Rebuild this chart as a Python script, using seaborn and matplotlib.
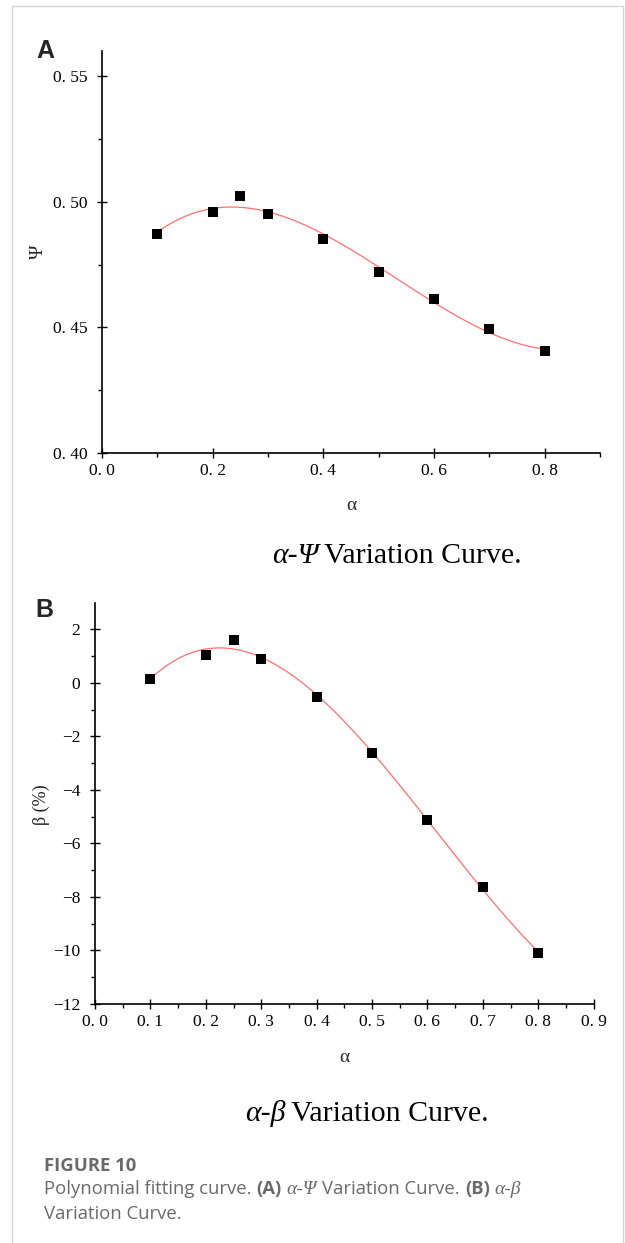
"""
Polynomial fitting curves: alpha-Psi and alpha-beta (Figure 10).
"""
import matplotlib
matplotlib.use("Agg")
import numpy as np
import pandas as pd
from matplotlib import pyplot as plt
from matplotlib import patches
from matplotlib.ticker import FixedLocator, MultipleLocator, FuncFormatter
import seaborn as sns

# Data
alpha_vals = [0.1, 0.2, 0.25, 0.3, 0.4, 0.5, 0.6, 0.7, 0.8]
psi_vals = [0.4873, 0.4961, 0.5021, 0.4953, 0.4853, 0.4722, 0.4614, 0.4493, 0.4404]
beta_vals = [0.16, 1.05, 1.61, 0.90, -0.51, -2.63, -5.13, -7.63, -10.09]

psi_ticks = [0.40, 0.45, 0.50, 0.55]
beta_ticks = [-12, -10, -8, -6, -4, -2, 0, 2]

W, H = 625, 1243
SERIF = "Liberation Serif"
SANS = ["Open Sans", "DejaVu Sans"]
LETTER = ["Liberation Sans", "DejaVu Sans"]
FIT_RED = "#ff6f6f"
CAPTION_GRAY = "#6a6a6a"


def fx(px):
    return px / W


def fy(py):
    return 1 - py / H


def style_axis(ax, xfmt, yfmt):
    sns.despine(ax=ax)
    for side in ("left", "bottom"):
        ax.spines[side].set_linewidth(1.2)
        ax.spines[side].set_color("black")
    ax.tick_params(which="both", bottom=True, left=True, top=False, right=False)
    ax.tick_params(which="major", direction="inout", length=7, width=1.0,
                   labelsize=12.5, colors="black")
    ax.tick_params(axis="y", which="major", pad=7)
    ax.tick_params(axis="x", which="major", pad=4)
    ax.tick_params(which="minor", direction="out", length=3, width=1.0,
                   colors="black")
    ax.xaxis.set_major_formatter(FuncFormatter(xfmt))
    ax.yaxis.set_major_formatter(FuncFormatter(yfmt))
    for lab in ax.get_xticklabels() + ax.get_yticklabels():
        lab.set_family(SERIF)
    ax.grid(False)


def draw_runs(fig, x_px, y_px, runs, gap_px=4.5, ha="left"):
    """Draw text pieces one after another on a single baseline."""
    renderer = fig.canvas.get_renderer()
    x = x_px
    texts = []
    for s, kw in runs:
        t = fig.text(fx(x), fy(y_px), s, ha="left", va="baseline", **kw)
        bb = t.get_window_extent(renderer=renderer)
        x += bb.width + gap_px
        texts.append(t)
    if ha == "center":
        shift = (x - gap_px - x_px) / 2
        for t in texts:
            px, py = t.get_position()
            t.set_position((px - shift / W, py))


sns.set_theme(style="white")
plt.rcParams["font.family"] = [SERIF, "DejaVu Serif"]

fig = plt.figure(figsize=(W / 100, H / 100), dpi=100)

# Light frame around the figure
fig.patches.append(patches.Rectangle(
    (fx(12), fy(1300)), fx(623) - fx(12), fy(6) - fy(1300),
    transform=fig.transFigure, fill=False, edgecolor="#d4d4d4", lw=1.0))

df = pd.DataFrame({"alpha": alpha_vals, "psi": psi_vals, "beta": beta_vals})

# ---- Panel A: alpha - Psi
axA = fig.add_axes([fx(102), fy(453), fx(600) - fx(102), fy(51) - fy(453)])
sns.regplot(data=df, x="alpha", y="psi", order=3, ci=None, scatter=False,
            line_kws=dict(color=FIT_RED, lw=0.9), ax=axA)
sns.scatterplot(data=df, x="alpha", y="psi", marker="s", color="black",
                s=55, linewidth=0, zorder=3, ax=axA)
axA.set_xlim(0, 0.9)
axA.set_ylim(0.40, 0.56)
axA.xaxis.set_major_locator(FixedLocator([0.0, 0.2, 0.4, 0.6, 0.8]))
axA.xaxis.set_minor_locator(FixedLocator([0.1, 0.3, 0.5, 0.7, 0.9]))
axA.yaxis.set_major_locator(FixedLocator(psi_ticks))
axA.yaxis.set_minor_locator(FixedLocator([0.425, 0.475, 0.525]))
style_axis(axA,
           lambda v, p: f"{v:.1f}".replace(".", ". "),
           lambda v, p: f"{v:.2f}".replace(".", ". "))
axA.set_xlabel("")
axA.set_ylabel("")

# ---- Panel B: alpha - beta
axB = fig.add_axes([fx(95), fy(1004), fx(593.6) - fx(95), fy(602.7) - fy(1004)])
sns.regplot(data=df, x="alpha", y="beta", order=3, ci=None, scatter=False,
            line_kws=dict(color=FIT_RED, lw=0.9), ax=axB)
sns.scatterplot(data=df, x="alpha", y="beta", marker="s", color="black",
                s=55, linewidth=0, zorder=3, ax=axB)
axB.set_xlim(0, 0.9)
axB.set_ylim(-12, 3)
axB.xaxis.set_major_locator(MultipleLocator(0.1))
axB.xaxis.set_minor_locator(MultipleLocator(0.05))
axB.yaxis.set_major_locator(FixedLocator(beta_ticks))
axB.yaxis.set_minor_locator(FixedLocator([-11, -9, -7, -5, -3, -1, 1]))
style_axis(axB,
           lambda v, p: f"{v:.1f}".replace(".", ". "),
           lambda v, p: f"{v:.0f}".replace("-", "\u2212"))
axB.set_xlabel("")
axB.set_ylabel("")

# Axis titles
fig.text(fx(351), fy(505), "\u03b1", family=SERIF, fontsize=14,
         ha="center", va="center")
fig.text(fx(38), fy(252), "\u03a8", family=SERIF, fontsize=14,
         ha="center", va="center", rotation=90)
fig.text(fx(344), fy(1057), "\u03b1", family=SERIF, fontsize=14,
         ha="center", va="center")
fig.text(fx(41), fy(805), "\u03b2 (%)", family=SERIF, fontsize=13,
         ha="center", va="center", rotation=90)

# Panel letters
fig.text(fx(36), fy(58), "A", family=LETTER, weight="bold", fontsize=18,
         ha="left", va="baseline")
fig.text(fx(35), fy(617), "B", family=LETTER, weight="bold", fontsize=18,
         ha="left", va="baseline")

# Panel subtitles
sub_it = dict(family=SERIF, style="italic", fontsize=21.5, color="black")
sub_rm = dict(family=SERIF, fontsize=21.5, color="black")
draw_runs(fig, 397, 563, [("\u03b1-\u03a8", sub_it), ("Variation Curve.", sub_rm)],
          gap_px=5, ha="center")
draw_runs(fig, 367, 1121, [("\u03b1-\u03b2", sub_it), ("Variation Curve.", sub_rm)],
          gap_px=5, ha="center")

# Caption
fig.text(fx(44), fy(1171), "FIGURE 10", family=SANS, weight="bold",
         fontsize=13.3, color=CAPTION_GRAY, ha="left", va="baseline")
plain = dict(family=SANS, fontsize=13.3, color=CAPTION_GRAY)
bold = dict(family=SANS, fontsize=13.3, color=CAPTION_GRAY, weight="bold")
greek = dict(family=SERIF, fontsize=14, color=CAPTION_GRAY, style="italic")
draw_runs(fig, 44, 1194, [
    ("Polynomial fitting curve.", plain),
    ("(A)", bold),
    ("\u03b1-\u03a8", greek),
    ("Variation Curve.", plain),
    ("(B)", bold),
    ("\u03b1-\u03b2", greek),
], gap_px=5)
draw_runs(fig, 44, 1219, [("Variation Curve.", plain)])

plt.savefig("out.png", dpi=100)
